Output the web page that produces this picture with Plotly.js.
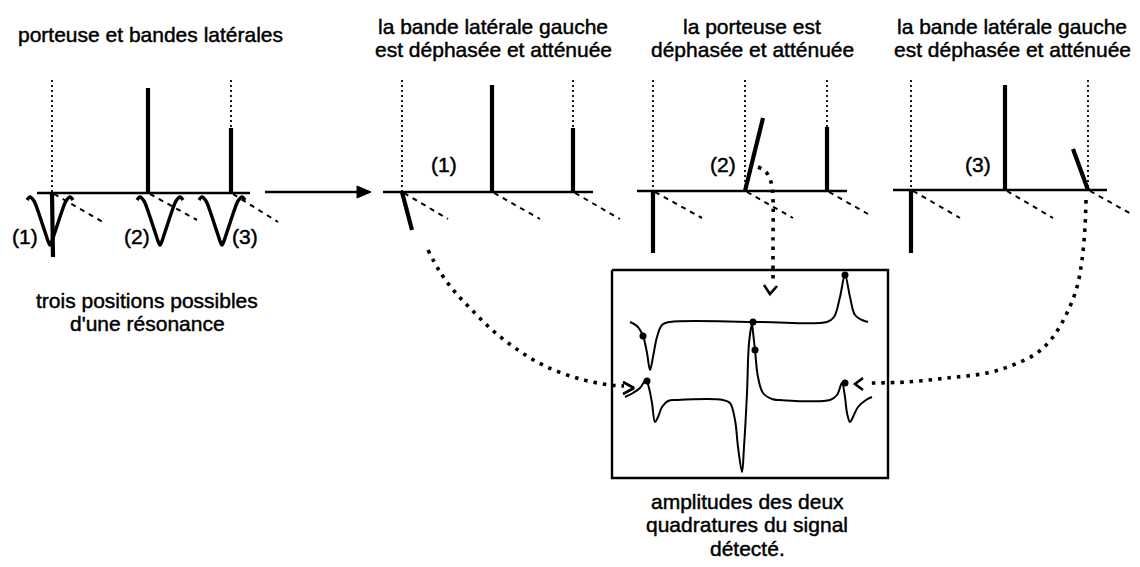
<!DOCTYPE html>
<html><head><meta charset="utf-8">
<script src="https://cdn.plot.ly/plotly-3.0.1.min.js"></script>
<style>
html,body{margin:0;padding:0;background:#fff}
.annotation-text{stroke:#000;stroke-width:0.45px;paint-order:stroke}
</style>
</head><body><div id="chart" style="width:1140px;height:567px"></div>
<script>
// ---- panel baselines (frequency axes) ----
const baseX0 = [37, 383, 637, 893];
const baseX1 = [250, 593, 847, 1107];
const baseY  = [193, 192, 191, 190];

// ---- thick spectral components: foot on baseline -> tip ----
const stemX0 = [52, 148, 231, 402, 492, 573, 653, 745, 827, 911, 1005, 1088];
const stemY0 = [193, 193, 193, 192, 192, 192, 191, 191, 191, 190, 190, 190];
const stemX1 = [53, 148, 231, 412, 492, 573, 653, 763, 827, 911, 1005, 1073];
const stemY1 = [257, 88, 128, 230, 85, 128, 253, 118, 127, 253, 85, 149];

// ---- fine dotted vertical guides ----
const guideX   = [52, 231, 402, 573, 653, 745, 827, 911, 1088];
const guideTop = [80, 80, 80, 80, 80, 80, 80, 80, 80];
const guideBot = [193, 128, 192, 128, 191, 191, 127, 190, 190];

// ---- dashed oblique (quadrature) axes ----
const diagX0 = [54, 150, 233, 404, 494, 575, 655, 747, 829, 913, 1007, 1090];
const diagY0 = [194, 194, 194, 193, 193, 193, 192, 192, 192, 191, 191, 191];
const diagX1 = [103, 197, 278, 448, 540, 620, 702, 793, 868, 960, 1053, 1133];
const diagY1 = [222, 220, 222, 219, 219, 219, 218, 218, 214, 218, 218, 215];

// ---- resonance dips of the first panel ----
const dipCenter = [50, 160, 222];
const dipDX = [-23, -20, -16, -12, -8, -4, -2, 0, 2, 4, 8, 12, 16, 20, 23];
const dipY  = [200, 197, 201, 211, 223, 235, 241, 245, 241, 235, 223, 211, 201, 197, 200];

// ---- main arrow ----
const arrowX = [265, 362];
const arrowY = [192, 192];
const arrowHeadX = [357, 371, 357, 357];
const arrowHeadY = [186, 192, 198, 186];

// ---- detected signal box ----
const boxX = [612, 888, 888, 612, 612];
const boxY = [270, 270, 478, 478, 270];

// upper trace (absorption)
const absX = [630, 637, 643, 647, 650, 653, 657, 662, 670, 760, 827, 834, 840, 845, 850, 855, 862, 868];
const absY = [322, 326, 336, 353, 370, 357, 337, 325, 322, 322, 322, 317, 297, 275, 297, 315, 320, 322];

// lower trace (dispersion)
const dispX = [625, 633, 640, 646, 649, 652, 655, 658, 662, 668, 677, 723, 730, 735, 738, 742, 744, 747, 749, 752, 753, 755, 758, 763, 772, 780, 830, 837, 842, 845, 847, 850, 853, 858, 866, 872];
const dispY = [397, 393, 388, 380, 388, 403, 422, 417, 407, 401, 400, 400, 403, 420, 447, 472, 447, 393, 343, 324, 332, 350, 377, 393, 399, 400, 400, 395, 383, 397, 413, 422, 417, 407, 400, 397];

// marked points
const dotX = [643, 753, 845, 647, 755, 845];
const dotY = [336, 322, 275, 381, 350, 383];

// ---- dotted curved arrows ----
const curveAX = [428, 440, 455, 470, 490, 515, 545, 580, 610, 624];
const curveAY = [250, 272, 292, 308, 328, 348, 366, 379, 385, 386];
const headAX = [623, 634, 623];
const headAY = [382, 388, 394];

const curveBX = [758, 766, 771, 773, 773, 773];
const curveBY = [167, 172, 182, 200, 240, 283];
const headBX = [764, 770, 777];
const headBY = [285, 294, 286];

const curveCX = [1086, 1085, 1082, 1077, 1067, 1053, 1037, 1013, 987, 947, 907, 868];
const curveCY = [200, 227, 260, 287, 313, 337, 353, 365, 373, 378, 382, 383];
const headCX = [863, 855, 863];
const headCY = [378, 384, 390];

// ---- texts ----
const textLines = [
  'porteuse et bandes latérales',
  'la bande latérale gauche', 'est déphasée et atténuée',
  'la porteuse est', 'déphasée et atténuée',
  'la bande latérale gauche', 'est déphasée et atténuée',
  'trois positions possibles', "d'une résonance",
  'amplitudes des deux', 'quadratures du signal', 'détecté.',
  '(1)', '(2)', '(3)', '(1)', '(2)', '(3)'
];
const textX = [150, 493, 493, 752, 752, 1012, 1012, 147, 147, 747, 747, 747, 25, 137, 245, 444, 723, 978];
const textY = [34, 26, 49, 26, 49, 26, 49, 300, 323, 501, 524, 548, 236, 236, 236, 164, 164, 164];

// ---------- build traces ----------
function segs(x0, y0, x1, y1) {
  const x = [], y = [];
  for (let i = 0; i < x0.length; i++) { x.push(x0[i], x1[i], null); y.push(y0[i], y1[i], null); }
  return {x, y};
}
const black = '#000';
const traces = [];
function addLine(x, y, width, dash, shape) {
  traces.push({type:'scatter', mode:'lines', x, y, hoverinfo:'skip',
    line:{color:black, width, dash: dash || 'solid', shape: shape || 'linear', smoothing: 1},
    connectgaps:false});
}
const b = segs(baseX0, baseY, baseX1, baseY);
addLine(b.x, b.y, 2.6);
const g = segs(guideX, guideTop, guideX, guideBot);
addLine(g.x, g.y, 1.8, '2px,3px');
const d = segs(diagX0, diagY0, diagX1, diagY1);
addLine(d.x, d.y, 2, '5px,5px');
const s = segs(stemX0, stemY0, stemX1, stemY1);
addLine(s.x, s.y, 4.2);
dipCenter.forEach(c => addLine(dipDX.map(v => c + v), dipY, 3.4, 'solid', 'spline'));
addLine(arrowX, arrowY, 2.6);
traces.push({type:'scatter', mode:'lines', x:arrowHeadX, y:arrowHeadY, fill:'toself', fillcolor:black,
  line:{color:black, width:1}, hoverinfo:'skip'});
addLine(boxX, boxY, 2.4);
addLine(absX, absY, 2, 'solid', 'spline');
addLine(dispX, dispY, 2, 'solid', 'spline');
traces.push({type:'scatter', mode:'markers', x:dotX, y:dotY, hoverinfo:'skip',
  marker:{color:black, size:7}});
addLine(curveAX, curveAY, 3.6, '3.5px,6px', 'spline');
addLine(headAX, headAY, 2.6);
addLine(curveBX, curveBY, 3.6, '3.5px,6px', 'spline');
addLine(headBX, headBY, 2.6);
addLine(curveCX, curveCY, 3.6, '3.5px,6px', 'spline');
addLine(headCX, headCY, 2.6);

const annotations = textLines.map((t, i) => ({
  text: t, x: textX[i], y: textY[i], xref:'x', yref:'y',
  showarrow:false, xanchor:'center', yanchor:'middle',
  font:{family:'Liberation Sans, Arial, Helvetica, sans-serif', size:21, color:black}
}));

const layout = {
  width:1140, height:567,
  margin:{l:0, r:0, t:0, b:0, pad:0},
  paper_bgcolor:'#fff', plot_bgcolor:'#fff',
  xaxis:{range:[0,1140], visible:false, fixedrange:true},
  yaxis:{range:[567,0], visible:false, fixedrange:true},
  showlegend:false,
  annotations
};
Plotly.newPlot('chart', traces, layout, {displayModeBar:false, staticPlot:true});
</script></body></html>
